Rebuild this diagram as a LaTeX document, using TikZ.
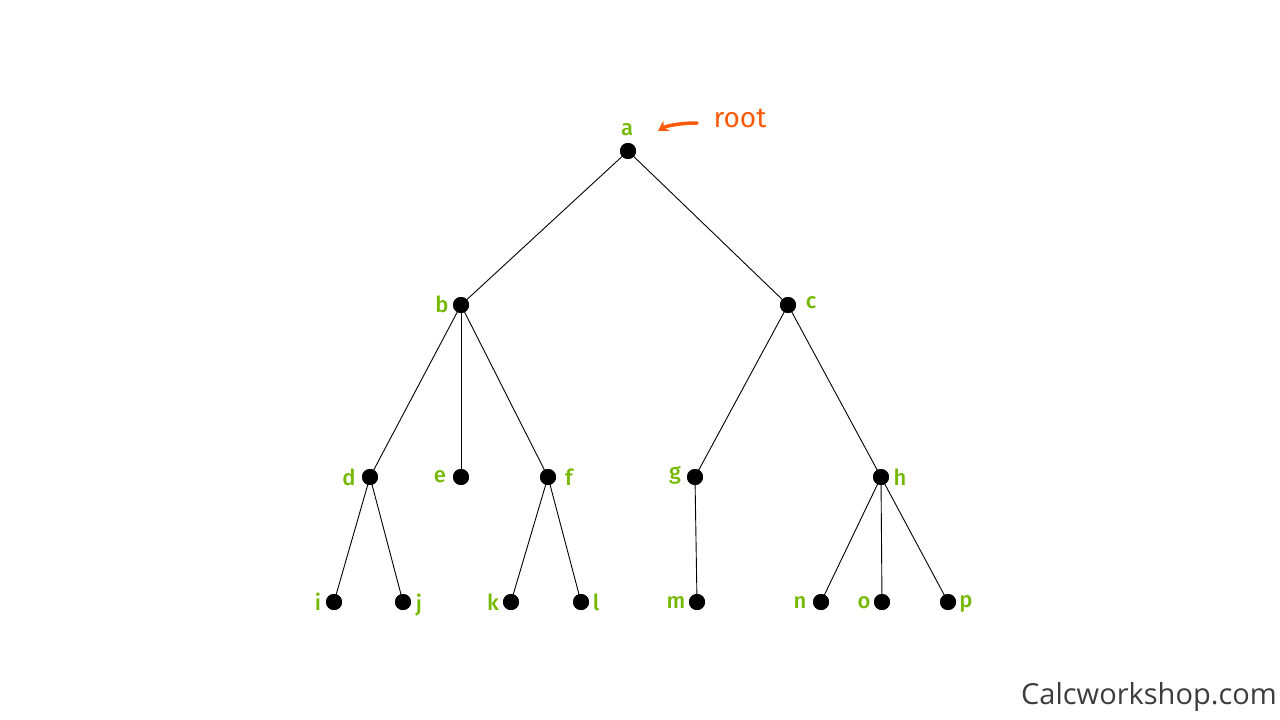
\documentclass[tikz,border=0pt]{standalone}
\usepackage{fontspec}
\setmainfont{Fira Sans}
\newfontfamily\wmfont{Open Sans}
\newfontfamily\lblfont{Fira Sans Medium}
\usetikzlibrary{arrows.meta}
\definecolor{lblgreen}{HTML}{74B800}
\definecolor{rootorange}{HTML}{FF5A0A}
\definecolor{wmgray}{HTML}{3C3C3C}
\tikzset{
  vtx/.style={circle,fill=black,inner sep=0pt,minimum size=16pt},
  lbl/.style={text=lblgreen,font=\lblfont\fontsize{22}{22}\selectfont,inner sep=0pt},
  edge/.style={draw=black,line width=0.9pt}
}
\begin{document}
\begin{tikzpicture}[x=1pt,y=-1pt]
\useasboundingbox (0,0) rectangle (1280,720);
\node[vtx] (a) at (628,151) {};
\node[vtx] (b) at (461,305) {};
\node[vtx] (c) at (788,305) {};
\node[vtx] (d) at (370,477) {};
\node[vtx] (e) at (461,477) {};
\node[vtx] (f) at (548,477) {};
\node[vtx] (g) at (695,477) {};
\node[vtx] (h) at (881,477) {};
\node[vtx] (i) at (334,602) {};
\node[vtx] (j) at (403,602) {};
\node[vtx] (k) at (511,602) {};
\node[vtx] (l) at (581,602) {};
\node[vtx] (m) at (697,602) {};
\node[vtx] (n) at (821,602) {};
\node[vtx] (o) at (882,602) {};
\node[vtx] (p) at (948,602) {};
\foreach \u/\v in {a/b,a/c,b/d,b/e,b/f,c/g,c/h,d/i,d/j,f/k,f/l,g/m,h/n,h/o,h/p}
  \draw[edge] (\u.center) -- (\v.center);
\foreach \u in {a,b,c,d,e,f,g,h,i,j,k,l,m,n,o,p}
  \node[vtx] at (\u) {};
\node[lbl] (la) at (627,130) {a};
\node[lbl] (lb) at (442,304) {b};
\node[lbl] (lc) at (811,303) {c};
\node[lbl] (ld) at (349,477) {d};
\node[lbl] (le) at (440,477) {e};
\node[lbl] (lf) at (569,477) {f};
\node[lbl] (lg) at (675,475) {g};
\node[lbl] (lh) at (900,477) {h};
\node[lbl] (li) at (318,602) {i};
\node[lbl] (lj) at (419,605) {j};
\node[lbl] (lk) at (493,602) {k};
\node[lbl] (ll) at (596,602) {l};
\node[lbl] (lm) at (676,603) {m};
\node[lbl] (ln) at (800,603) {n};
\node[lbl] (lo) at (864,603) {o};
\node[lbl] (lp) at (966,604) {p};
\node[text=rootorange,font=\fontsize{28}{28}\selectfont,inner sep=0pt] (root) at (740,118) {root};
\coordinate (rs) at (697,123);
\coordinate (re) at (658,131);
\draw[rootorange,line width=3.5pt,line cap=round,-{Stealth[length=10pt,width=12pt]}] (rs) .. controls (680,123) and (666,126) .. (re);
\node[text=wmgray,font=\wmfont\fontsize{29}{29}\selectfont,anchor=east,inner sep=0pt] (wm) at (1277,697) {Calcworkshop.com};
\end{tikzpicture}
\end{document}
